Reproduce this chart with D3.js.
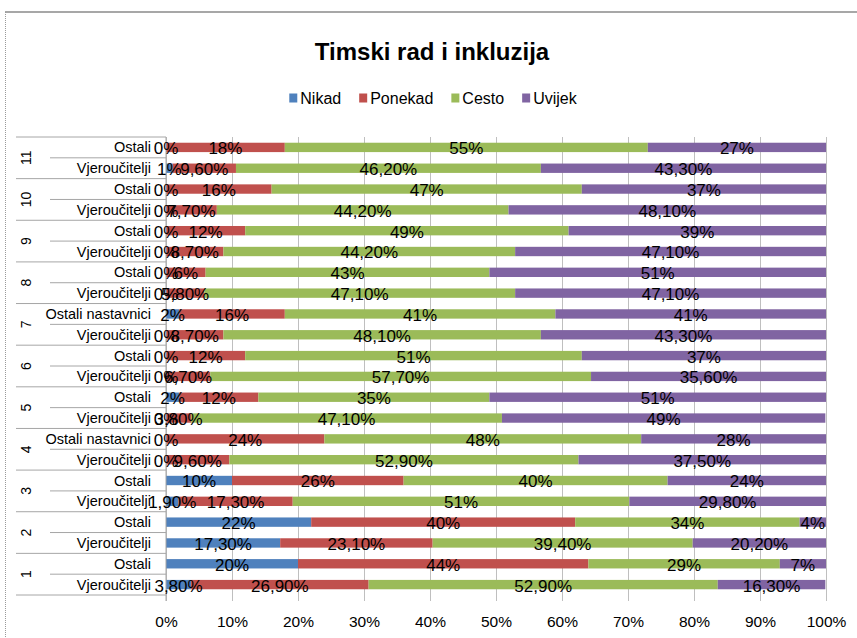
<!DOCTYPE html>
<html>
<head>
<meta charset="utf-8">
<script src="https://cdn.jsdelivr.net/npm/d3@7"></script>
<style>
  body { margin: 0; background: #fff; }
  svg { font-family: "Liberation Sans", Arial, sans-serif; }
</style>
</head>
<body>
<div id="chart"></div>
<script>
// categories, bottom to top as in the source chart (group, row)
const groups = ["1", "2", "3", "4", "5", "6", "7", "8", "9", "10", "11"];
const rowLabels = [
  "Vjeroučitelji", "Ostali",
  "Vjeroučitelji", "Ostali",
  "Vjeroučitelji", "Ostali",
  "Vjeroučitelji", "Ostali nastavnici",
  "Vjeroučitelji", "Ostali",
  "Vjeroučitelji", "Ostali",
  "Vjeroučitelji", "Ostali nastavnici",
  "Vjeroučitelji", "Ostali",
  "Vjeroučitelji", "Ostali",
  "Vjeroučitelji", "Ostali",
  "Vjeroučitelji", "Ostali"
];

// series values (%)
const nikad   = [3.8, 20, 17.3, 22, 1.9, 10, 0, 0, 0, 2, 0, 0, 0, 2, 0, 0, 0, 0, 0, 0, 1, 0];
const ponekad = [26.9, 44, 23.1, 40, 17.3, 26, 9.6, 24, 3.8, 12, 6.7, 12, 8.7, 16, 5.8, 6, 8.7, 12, 7.7, 16, 9.6, 18];
const cesto   = [52.9, 29, 39.4, 34, 51, 40, 52.9, 48, 47.1, 35, 57.7, 51, 48.1, 41, 47.1, 43, 44.2, 49, 44.2, 47, 46.2, 55];
const uvijek  = [16.3, 7, 20.2, 4, 29.8, 24, 37.5, 28, 49, 51, 35.6, 37, 43.3, 41, 47.1, 51, 47.1, 39, 48.1, 37, 43.3, 27];

const seriesNames = ["Nikad", "Ponekad", "Cesto", "Uvijek"];
const seriesColors = ["#4F81BD", "#C0504D", "#9BBB59", "#8064A2"];
const xTicks = [0, 10, 20, 30, 40, 50, 60, 70, 80, 90, 100];

const W = 857, H = 638;
const plot = {left: 166, right: 826, top: 137, bottom: 595};

const svg = d3.select("#chart")
    .append("svg")
    .attr("width", W)
    .attr("height", H);

// chart border (top solid, left dotted)
svg.append("line")
    .attr("x1", 5).attr("x2", W).attr("y1", 12).attr("y2", 12)
    .style("stroke", "#8a8a8a").style("stroke-width", 1.5);
svg.append("line")
    .attr("x1", 5.5).attr("x2", 5.5).attr("y1", 12).attr("y2", H)
    .style("stroke", "#9a9a9a").style("stroke-dasharray", "1,1");

// title
svg.append("text")
    .attr("x", 432)
    .attr("y", 60)
    .attr("text-anchor", "middle")
    .style("font-size", "24px")
    .style("font-weight", "bold")
    .style("fill", "#000")
    .text("Timski rad i inkluzija");

// legend
const legend = svg.append("g").attr("transform", "translate(0, 98)");
let lx = 0;
seriesNames.forEach((name, i) => {
  const item = legend.append("g").attr("transform", `translate(${lx}, 0)`);
  item.append("rect")
      .attr("x", 0).attr("y", -4.5)
      .attr("width", 8).attr("height", 9)
      .style("fill", seriesColors[i]);
  const t = item.append("text")
      .attr("x", 11).attr("y", 5.5)
      .style("font-size", "16px")
      .style("fill", "#000")
      .text(name);
  lx += 11 + t.node().getComputedTextLength() + 18;
});
legend.attr("transform", `translate(${433 - (lx - 18) / 2}, 98)`);

// scales
const rowKeys = rowLabels.map((d, i) => i);
const y = d3.scaleBand()
    .domain(rowKeys.slice().reverse())
    .range([plot.top, plot.bottom])
    .paddingInner(0.55)
    .paddingOuter(0.275);
const step = y.step();

const x = d3.scaleLinear()
    .domain([0, 100])
    .range([plot.left, plot.right]);

// gridlines + ticks + tick labels
const xAxis = svg.append("g")
    .attr("transform", `translate(0, ${plot.bottom})`)
    .call(d3.axisBottom(x)
        .tickValues(xTicks)
        .tickSizeInner(-(plot.bottom - plot.top))
        .tickSizeOuter(0)
        .tickPadding(0)
        .tickFormat(d => d + "%"));
xAxis.select(".domain").remove();
xAxis.selectAll(".tick line")
    .attr("y1", 6)
    .style("stroke", "#bfbfbf");
xAxis.selectAll(".tick text")
    .attr("y", 32)
    .attr("dy", null)
    .style("font-size", "15.5px")
    .style("font-family", "'Liberation Sans', Arial, sans-serif")
    .style("fill", "#000");

// stacked bars
const table = rowKeys.map(i => ({
  key: i,
  Nikad: nikad[i], Ponekad: ponekad[i], Cesto: cesto[i], Uvijek: uvijek[i]
}));
const stacked = d3.stack().keys(seriesNames)(table);

svg.append("g")
    .selectAll("g")
    .data(stacked)
    .join("g")
    .style("fill", (d, i) => seriesColors[i])
    .selectAll("rect")
    .data(d => d)
    .join("rect")
    .attr("x", d => x(d[0]))
    .attr("y", d => y(d.data.key))
    .attr("width", d => x(Math.min(d[1], 100)) - x(d[0]))
    .attr("height", y.bandwidth());

// category axis: vertical line + separators
const cat = svg.append("g").style("stroke", "#a6a6a6").style("stroke-width", 1);
cat.append("line")
    .attr("x1", plot.left).attr("x2", plot.left)
    .attr("y1", plot.top).attr("y2", plot.bottom + 6);
rowKeys.forEach(i => {
  // line under each row (in screen terms, the row's bottom edge)
  const yb = y(i) - y.paddingOuter() * step + step;
  const isGroupEdge = i % 2 === 0;
  cat.append("line")
      .attr("x1", isGroupEdge ? 16 : 50).attr("x2", plot.left)
      .attr("y1", yb).attr("y2", yb);
});
cat.append("line")
    .attr("x1", 16).attr("x2", plot.left)
    .attr("y1", plot.top).attr("y2", plot.top);

// row labels
svg.append("g")
    .selectAll("text")
    .data(rowKeys)
    .join("text")
    .attr("x", 151)
    .attr("y", d => y(d) + y.bandwidth() / 2)
    .attr("dy", "0.35em")
    .attr("text-anchor", "end")
    .style("font-size", "14.5px")
    .style("fill", "#000")
    .text(d => rowLabels[d]);

// group labels, rotated
svg.append("g")
    .selectAll("text")
    .data(groups)
    .join("text")
    .attr("transform", (d, gi) => {
      const cy = (y(gi * 2) + y(gi * 2 + 1)) / 2 + y.bandwidth() / 2;
      return `translate(26, ${cy}) rotate(-90)`;
    })
    .attr("dy", "0.35em")
    .attr("text-anchor", "middle")
    .style("font-size", "14px")
    .style("fill", "#000")
    .text(d => d);

// data labels, centered in each segment
const fmt = v => Number.isInteger(v) ? v + "%" : v.toFixed(2).replace(".", ",") + "%";
svg.append("g")
    .selectAll("g")
    .data(stacked)
    .join("g")
    .selectAll("text")
    .data(d => d.map(s => ({s: s, v: s[1] - s[0]})))
    .join("text")
    .attr("x", d => x((d.s[0] + Math.min(d.s[1], 100)) / 2))
    .attr("y", d => y(d.s.data.key) + y.bandwidth() / 2 + 1)
    .attr("dy", "0.35em")
    .attr("text-anchor", "middle")
    .style("font-size", "17px")
    .style("fill", "#000")
    .text(d => fmt(Math.round(d.v * 10) / 10));
</script>
</body>
</html>
